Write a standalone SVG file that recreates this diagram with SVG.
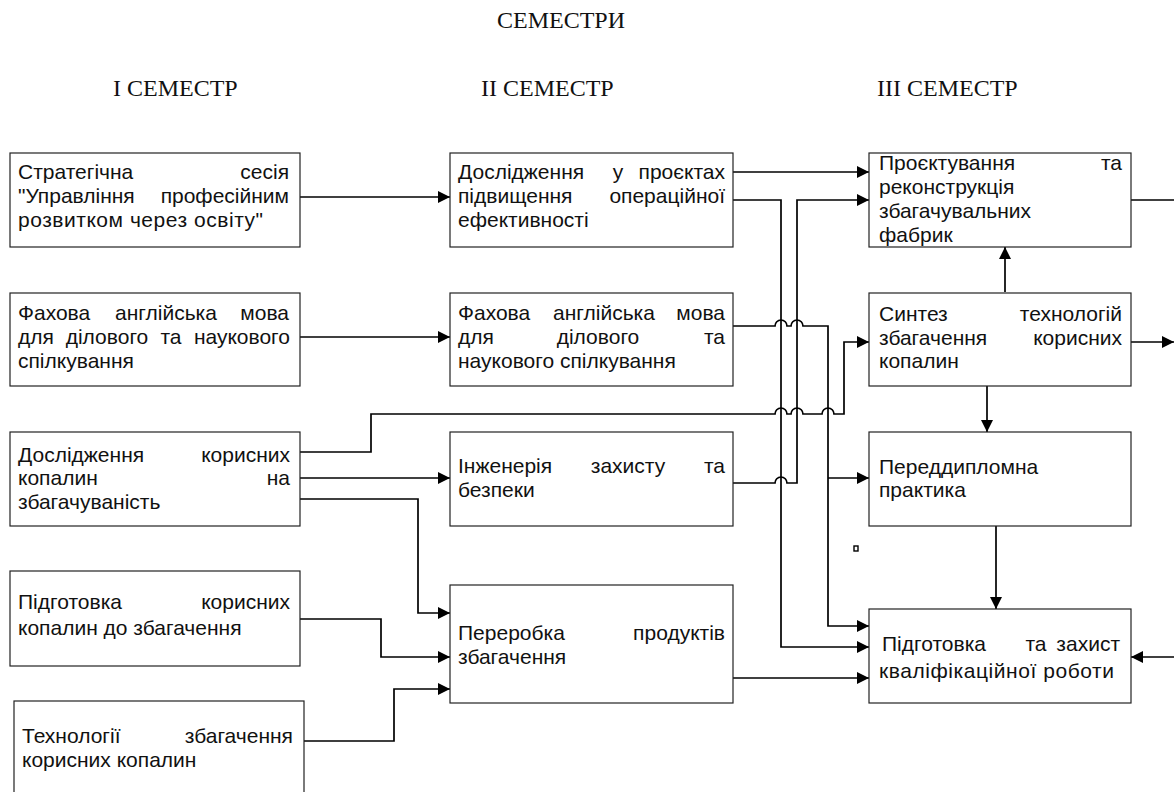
<svg xmlns="http://www.w3.org/2000/svg" width="1174" height="792" viewBox="0 0 1174 792">
<style>
.box{fill:#fff;stroke:#222;stroke-width:1.2}
.t{font-family:"Liberation Sans",Arial,sans-serif;font-size:21px;fill:#111}
.e{text-anchor:end}
.m{text-anchor:middle}
.h{font-family:"Liberation Serif","Times New Roman",serif;font-size:24px;fill:#111}
.c{fill:none;stroke:#000;stroke-width:1.7}
</style>
<defs>
<marker id="a" markerUnits="userSpaceOnUse" markerWidth="13" markerHeight="13" refX="12" refY="6" orient="auto">
<path d="M0,0 L12,6 L0,12 z" fill="#000"/>
</marker>
</defs>
<rect width="1174" height="792" fill="#fff"/>

<g id="headers">
<text class="h" x="497" y="28">СЕМЕСТРИ</text>
<text class="h" x="113" y="96">I СЕМЕСТР</text>
<text class="h" x="481" y="96">II СЕМЕСТР</text>
<text class="h" x="877" y="96">III СЕМЕСТР</text>
</g>

<g id="connectors">
<path class="c" marker-end="url(#a)" d="M300,197 H450"/>
<path class="c" marker-end="url(#a)" d="M300,337 H450"/>
<path class="c" marker-end="url(#a)" d="M300,452 H371 V414 H775 A6,6 0 0 1 787,414 H791 A6,6 0 0 1 803,414 H822 A6,6 0 0 1 834,414 H844 V342 H869"/>
<path class="c" marker-end="url(#a)" d="M300,478 H450"/>
<path class="c" marker-end="url(#a)" d="M300,499 H418 V613 H450"/>
<path class="c" marker-end="url(#a)" d="M300,619 H381 V657 H450"/>
<path class="c" marker-end="url(#a)" d="M304,741 H394 V689 H450"/>
<path class="c" marker-end="url(#a)" d="M733,172 H869"/>
<path class="c" marker-end="url(#a)" d="M733,200 H781 V647 H869"/>
<path class="c" marker-end="url(#a)" d="M733,483 H775 A6,6 0 0 1 787,483 H797 V200 H869"/>
<path class="c" marker-end="url(#a)" d="M733,326 H775 A6,6 0 0 1 787,326 H791 A6,6 0 0 1 803,326 H828 V626 H869"/>
<path class="c" marker-end="url(#a)" d="M828,478 H869"/>
<path class="c" marker-end="url(#a)" d="M733,678 H869"/>
<path class="c" marker-end="url(#a)" d="M1005,292 V247"/>
<path class="c" marker-end="url(#a)" d="M987,386 V432"/>
<path class="c" marker-end="url(#a)" d="M996,526 V609"/>
<path class="c" d="M1131,200 H1174"/>
<path class="c" marker-end="url(#a)" d="M1131,342 H1174"/>
<path class="c" marker-end="url(#a)" d="M1174,657 H1131"/>
<rect x="854" y="546" width="4" height="5" fill="none" stroke="#000" stroke-width="1.4"/>
</g>

<g id="n-b1">
<rect class="box" x="10" y="153" width="290" height="94"/>
<text class="t" x="18" y="179">Стратегічна</text><text class="t e" x="289" y="179">сесія</text>
<text class="t" x="18" y="203">"Управління</text><text class="t e" x="289" y="203">професійним</text>
<text class="t" x="18" y="227" textLength="245" lengthAdjust="spacing">розвитком через освіту"</text>
</g>

<g id="n-b2">
<rect class="box" x="10" y="293" width="290" height="93"/>
<text class="t" x="18" y="320">Фахова</text><text class="t m" x="166" y="320">англійська</text><text class="t e" x="289" y="320">мова</text>
<text class="t" x="18" y="344">для</text><text class="t m" x="107" y="344">ділового</text><text class="t m" x="171" y="344">та</text><text class="t e" x="290" y="344">наукового</text>
<text class="t" x="18" y="368">спілкування</text>
</g>

<g id="n-b3">
<rect class="box" x="10" y="432" width="290" height="94"/>
<text class="t" x="18" y="462">Дослідження</text><text class="t e" x="290" y="462">корисних</text>
<text class="t" x="18" y="485">копалин</text><text class="t e" x="290" y="485">на</text>
<text class="t" x="18" y="509">збагачуваність</text>
</g>

<g id="n-b4">
<rect class="box" x="10" y="571" width="290" height="95"/>
<text class="t" x="18" y="609">Підготовка</text><text class="t e" x="290" y="609">корисних</text>
<text class="t" x="18" y="635">копалин до збагачення</text>
</g>

<g id="n-b5">
<rect class="box" x="14" y="701" width="290" height="100"/>
<text class="t" x="22" y="743">Технології</text><text class="t e" x="293" y="743">збагачення</text>
<text class="t" x="22" y="767">корисних копалин</text>
</g>

<g id="n-c1">
<rect class="box" x="450" y="153" width="283" height="94"/>
<text class="t" x="458" y="179">Дослідження</text><text class="t m" x="618" y="179">у</text><text class="t e" x="725" y="179">проєктах</text>
<text class="t" x="458" y="203">підвищення</text><text class="t e" x="725" y="203">операційної</text>
<text class="t" x="458" y="227">ефективності</text>
</g>

<g id="n-c2">
<rect class="box" x="450" y="293" width="283" height="93"/>
<text class="t" x="458" y="320">Фахова</text><text class="t m" x="604" y="320">англійська</text><text class="t e" x="725" y="320">мова</text>
<text class="t" x="458" y="344">для</text><text class="t m" x="598" y="344">ділового</text><text class="t e" x="725" y="344">та</text>
<text class="t" x="458" y="368">наукового спілкування</text>
</g>

<g id="n-c3">
<rect class="box" x="450" y="432" width="283" height="94"/>
<text class="t" x="458" y="473">Інженерія</text><text class="t m" x="628" y="473">захисту</text><text class="t e" x="725" y="473">та</text>
<text class="t" x="458" y="497">безпеки</text>
</g>

<g id="n-c4">
<rect class="box" x="450" y="585" width="283" height="118"/>
<text class="t" x="458" y="640">Переробка</text><text class="t e" x="725" y="640">продуктів</text>
<text class="t" x="458" y="664">збагачення</text>
</g>

<g id="n-d1">
<rect class="box" x="869" y="153" width="262" height="94"/>
<text class="t" x="879" y="170">Проєктування</text><text class="t e" x="1122" y="170">та</text>
<text class="t" x="879" y="194">реконструкція</text>
<text class="t" x="879" y="218">збагачувальних</text>
<text class="t" x="879" y="242">фабрик</text>
</g>

<g id="n-d2">
<rect class="box" x="869" y="293" width="262" height="93"/>
<text class="t" x="879" y="321">Синтез</text><text class="t e" x="1122" y="321">технологій</text>
<text class="t" x="879" y="345">збагачення</text><text class="t e" x="1122" y="345">корисних</text>
<text class="t" x="879" y="368">копалин</text>
</g>

<g id="n-d3">
<rect class="box" x="869" y="432" width="262" height="94"/>
<text class="t" x="879" y="474">Переддипломна</text>
<text class="t" x="879" y="497">практика</text>
</g>

<g id="n-d4">
<rect class="box" x="869" y="609" width="262" height="94"/>
<text class="t" x="882" y="651">Підготовка</text><text class="t m" x="1036" y="651">та</text><text class="t e" x="1120" y="651">захист</text>
<text class="t" x="879" y="678" textLength="235" lengthAdjust="spacing">кваліфікаційної роботи</text>
</g>
</svg>
